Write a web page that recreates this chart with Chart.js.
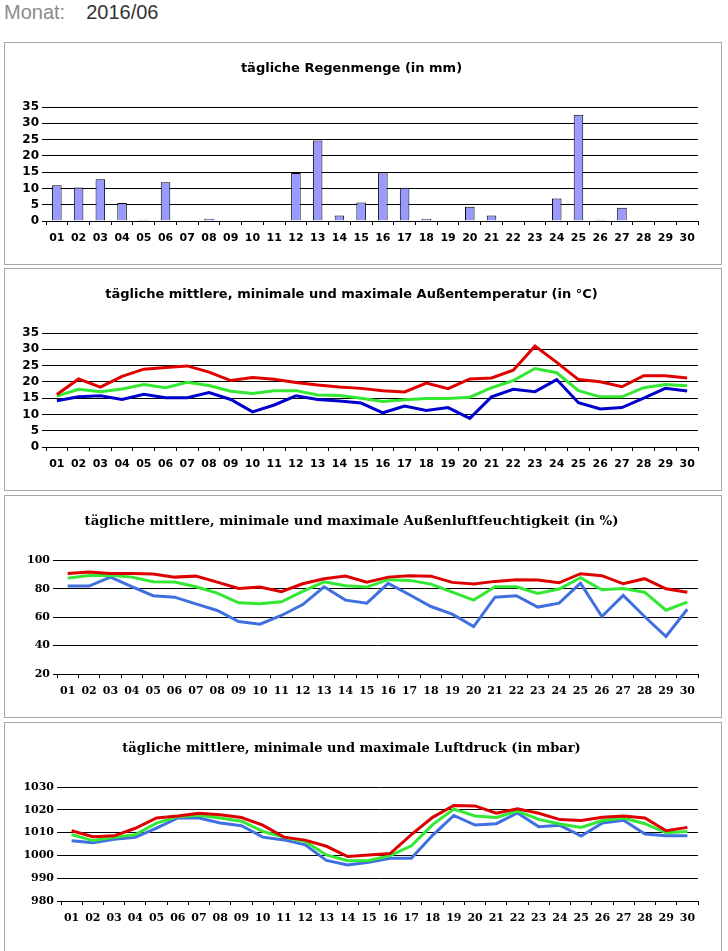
<!DOCTYPE html>
<html>
<head>
<meta charset="utf-8">
<script src="https://cdn.jsdelivr.net/npm/chart.js@4"></script>
<style>
  body { margin: 0; background: #fff; width: 728px; height: 951px; overflow: hidden; position: relative; }
  #head { position: absolute; left: 4px; top: 1px; font-family: "Liberation Sans", Arial, sans-serif; font-size: 20px; }
  #head .lbl { color: #8c8c8c; }
  #head .val { color: #333; margin-left: 21px; }
  .panel { position: absolute; left: 4px; width: 716px; height: 221px; border: 1px solid #a8a8a8; background: #fff; }
  .panel canvas { position: absolute; left: 0; top: 0; }
</style>
</head>
<body>
<div id="head"><span class="lbl">Monat:</span><span class="val">2016/06</span></div>
<div class="panel" style="top:42px"><canvas id="c-rain" width="716" height="221"></canvas></div>
<div class="panel" style="top:268px"><canvas id="c-temp" width="716" height="221"></canvas></div>
<div class="panel" style="top:495px"><canvas id="c-hum" width="716" height="221"></canvas></div>
<div class="panel" style="top:722px; height:240px"><canvas id="c-press" width="716" height="221"></canvas></div>
<script>
// Tage im Monat
const days = ['01','02','03','04','05','06','07','08','09','10','11','12','13','14','15',
              '16','17','18','19','20','21','22','23','24','25','26','27','28','29','30'];

// Regenmenge (mm)
const rain = [11.0, 10.3, 12.8, 5.5, 0.4, 11.9, 0, 0.7, 0, 0, 0, 14.7, 24.7, 1.7, 5.7,
              15.0, 10.2, 0.7, 0, 4.4, 1.7, 0, 0, 6.9, 32.6, 0.4, 4.1, 0, 0, 0];

// Außentemperatur (°C)
const tempMax = [16.1, 20.9, 18.4, 21.7, 23.9, 24.4, 24.9, 23.0, 20.4, 21.3, 20.8, 19.8, 19.0, 18.4, 18.0,
                 17.3, 16.9, 19.6, 17.9, 20.9, 21.2, 23.6, 31.0, 26.0, 20.7, 20.0, 18.5, 21.9, 21.9, 21.2];
const tempAvg = [15.6, 17.7, 17.0, 17.8, 19.2, 18.2, 19.9, 18.9, 17.1, 16.4, 17.3, 17.3, 16.0, 15.8, 15.0,
                 14.0, 14.5, 14.9, 14.9, 15.3, 18.2, 20.4, 24.1, 22.8, 17.3, 15.4, 15.4, 18.2, 19.2, 18.8];
const tempMin = [14.2, 15.4, 15.7, 14.6, 16.2, 15.1, 15.1, 16.7, 14.6, 10.8, 12.9, 15.7, 14.6, 14.1, 13.5,
                 10.5, 12.6, 11.2, 12.1, 8.8, 15.4, 17.7, 17.0, 20.7, 13.6, 11.7, 12.1, 15.0, 18.0, 17.2];

// Außenluftfeuchtigkeit (%)
const humMax = [90.8, 91.8, 90.8, 90.8, 90.4, 88.2, 88.9, 84.7, 80.2, 81.2, 77.9, 83.5, 87.1, 88.9, 84.7,
                88.2, 89.2, 88.9, 84.5, 83.3, 85.2, 86.4, 86.1, 84.2, 90.6, 89.2, 83.5, 87.1, 80.0, 77.6];
const humAvg = [87.5, 89.4, 89.6, 88.2, 84.9, 84.7, 81.4, 76.9, 70.1, 69.4, 70.8, 78.1, 84.9, 82.1, 81.2,
                86.4, 85.9, 83.3, 77.6, 72.0, 81.4, 81.4, 76.7, 79.8, 87.8, 79.3, 80.2, 77.6, 64.9, 70.6];
const humMin = [81.9, 81.9, 88.2, 81.5, 75.1, 74.1, 69.4, 64.7, 56.9, 55.1, 61.2, 68.9, 81.4, 72.0, 69.9,
                83.8, 75.8, 67.5, 62.1, 53.4, 74.1, 75.1, 67.1, 69.9, 84.0, 60.5, 75.3, 60.5, 46.4, 65.6];

// Luftdruck (mbar)
const pressMax = [1010.8, 1008.2, 1008.6, 1011.9, 1016.4, 1017.3, 1018.5, 1017.8, 1016.6, 1013.3, 1008.0, 1006.7, 1004.0, 999.5, 1000.2,
                  1000.8, 1009.1, 1016.7, 1021.9, 1021.7, 1018.5, 1020.4, 1018.5, 1015.7, 1015.3, 1016.7, 1017.3, 1016.4, 1010.8, 1012.3];
const pressAvg = [1009.1, 1006.5, 1007.9, 1009.1, 1014.2, 1017.0, 1017.6, 1016.4, 1015.0, 1010.5, 1008.0, 1006.1, 1000.2, 997.7, 997.8,
                  999.9, 1004.2, 1013.5, 1020.3, 1017.3, 1016.6, 1019.4, 1015.8, 1013.8, 1012.3, 1015.3, 1016.4, 1013.9, 1009.9, 1010.5];
const pressMin = [1006.4, 1005.5, 1007.1, 1007.9, 1012.0, 1016.4, 1016.4, 1014.2, 1013.0, 1008.0, 1006.8, 1004.6, 997.8, 995.8, 997.0,
                  998.7, 998.7, 1008.8, 1017.5, 1013.3, 1013.9, 1018.6, 1012.6, 1013.2, 1008.5, 1014.2, 1015.4, 1009.4, 1008.6, 1008.6];

const SANS = 'DejaVu Sans';
const SERIF = 'DejaVu Serif';

function makeOptions(cfg) {
    return {
        responsive: false,
        animation: false,
        layout: { padding: { left: 0, right: 23, top: 0, bottom: 0 } },
        plugins: {
            legend: { display: false },
            tooltip: { enabled: false },
            title: {
                display: true,
                text: cfg.title,
                color: '#000',
                font: { family: cfg.font, size: cfg.tFont || 13, weight: 'bold', lineHeight: 1.2 },
                padding: { top: 18, bottom: 30.4 }
            }
        },
        scales: {
            x: {
                offset: true,
                grid: { display: true, drawOnChartArea: false, drawTicks: true, tickLength: 4, offset: true, color: '#000' },
                border: { display: true, color: '#000', width: 1 },
                ticks: { color: '#000', autoSkip: false, maxRotation: 0, padding: 7,
                         font: { family: cfg.font, size: 11, weight: 'bold' } },
                afterFit: s => { s.height = 43; }
            },
            y: {
                min: cfg.min, max: cfg.max,
                grid: { color: '#000', lineWidth: 1, drawTicks: true, tickLength: 4 },
                border: { display: false },
                ticks: { stepSize: cfg.step, color: '#000', padding: 3, autoSkip: false,
                         callback: v => String(v),
                         font: { family: cfg.font, size: cfg.yFont, weight: 'bold' } },
                afterFit: s => { s.width = cfg.left; }
            }
        }
    };
}

function lineSet(data, color) {
    return { data: data, borderColor: color, backgroundColor: color, borderWidth: 3,
             pointRadius: 0, tension: 0, fill: false };
}

new Chart(document.getElementById('c-rain'), {
    type: 'bar',
    data: {
        labels: days,
        datasets: [{ data: rain, backgroundColor: '#9999ff', borderColor: '#000', borderWidth: 1,
                     barPercentage: 0.44, categoryPercentage: 1 }]
    },
    options: makeOptions({ title: 'tägliche Regenmenge (in mm)', font: SANS, min: 0, max: 35, step: 5, yFont: 12, left: 41 })
});

new Chart(document.getElementById('c-temp'), {
    type: 'line',
    data: {
        labels: days,
        datasets: [lineSet(tempMax, '#e00000'), lineSet(tempAvg, '#33e833'), lineSet(tempMin, '#0000cc')]
    },
    options: makeOptions({ title: 'tägliche mittlere, minimale und maximale Außentemperatur (in °C)', font: SANS, min: 0, max: 35, step: 5, yFont: 12, left: 41 })
});

new Chart(document.getElementById('c-hum'), {
    type: 'line',
    data: {
        labels: days,
        datasets: [lineSet(humMax, '#dd0000'), lineSet(humAvg, '#33e833'), lineSet(humMin, '#4070e0')]
    },
    options: makeOptions({ title: 'tägliche mittlere, minimale und maximale Außenluftfeuchtigkeit (in %)', font: SERIF, tFont: 13.3, min: 20, max: 100, step: 20, yFont: 11, left: 52 })
});

new Chart(document.getElementById('c-press'), {
    type: 'line',
    data: {
        labels: days,
        datasets: [lineSet(pressMax, '#dd0000'), lineSet(pressAvg, '#33e833'), lineSet(pressMin, '#4070e0')]
    },
    options: makeOptions({ title: 'tägliche mittlere, minimale und maximale Luftdruck (in mbar)', font: SERIF, min: 980, max: 1030, step: 10, yFont: 11, left: 56 })
});
</script>
</body>
</html>
